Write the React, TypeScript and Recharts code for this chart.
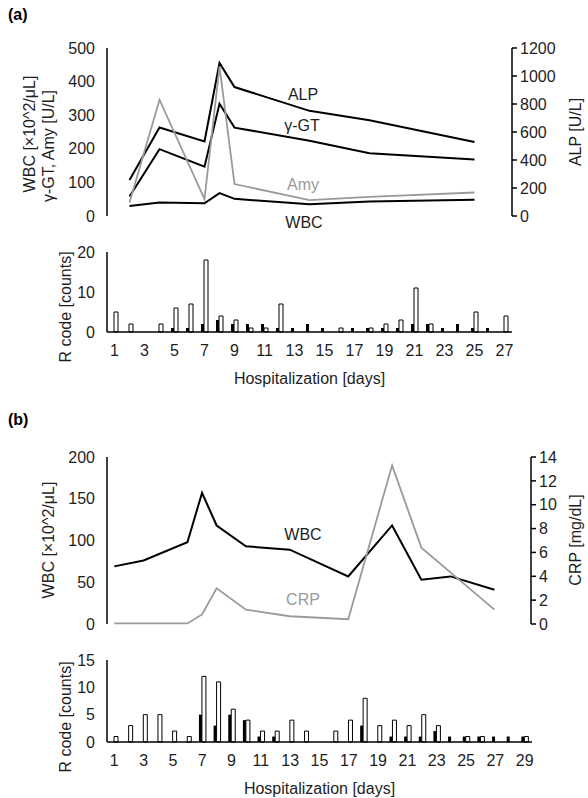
import { LineChart, Line, BarChart, Bar, XAxis, YAxis } from "recharts";

const FONT = '"Liberation Sans", Arial, sans-serif';
const INK = "#1e1e1e";
const GRAY = "#9a9a9a";

// (a) lab values by hospital day
const labDaysA = [2, 4, 7, 8, 9, 14, 18, 25];
const alpA = [258, 632, 532, 1093, 921, 751, 684, 528];
const ggtA = [58, 199, 147, 334, 263, 224, 187, 168];
const amyA = [40, 346, 50, 445, 95, 47, 57, 70];
const wbcA = [30, 40, 38, 68, 51, 35, 43, 48];

// (a) R code counts, days 1-27
const daysA = [1, 2, 3, 4, 5, 6, 7, 8, 9, 10, 11, 12, 13, 14, 15, 16, 17, 18, 19, 20, 21, 22, 23, 24, 25, 26, 27];
const rBlackA = [0, 0, 0, 0, 1, 1, 2, 3, 2, 2, 2, 1, 1, 2, 1, 0, 1, 1, 1, 1, 2, 2, 1, 2, 1, 1, 0];
const rWhiteA = [5, 2, 0, 2, 6, 7, 18, 4, 3, 1, 1, 7, 0, 0, 0, 1, 0, 1, 2, 3, 11, 2, 0, 0, 5, 0, 4];

// (b) lab values by hospital day
const labDaysB = [1, 3, 6, 7, 8, 10, 13, 17, 20, 22, 24, 27];
const wbcB = [69, 76, 98, 157, 118, 93, 89, 57, 118, 53, 57, 41];
const crpB = [0.05, 0.05, 0.05, 0.8, 3.0, 1.2, 0.65, 0.4, 13.3, 6.4, null, 1.2];

// (b) R code counts, days 1-29
const daysB = [1, 2, 3, 4, 5, 6, 7, 8, 9, 10, 11, 12, 13, 14, 15, 16, 17, 18, 19, 20, 21, 22, 23, 24, 25, 26, 27, 28, 29];
const rBlackB = [0, 0, 0, 0, 0, 0, 5, 3, 5, 4, 1, 1, 0, 0, 0, 0, 0, 3, 0, 1, 1, 1, 2, 1, 1, 1, 1, 1, 1];
const rWhiteB = [1, 3, 5, 5, 2, 1, 12, 11, 6, 4, 2, 2, 4, 2, 0, 2, 4, 8, 3, 4, 3, 5, 3, 0, 1, 1, 0, 0, 1];

const labTableA = labDaysA.map((d, i) => ({ day: d, alp: alpA[i], ggt: ggtA[i], amy: amyA[i], wbc: wbcA[i] }));
const labTableB = labDaysB.map((d, i) => ({ day: d, wbc: wbcB[i], crp: crpB[i] }));
const barTableA = daysA.map((d, i) => ({ day: d, black: rBlackA[i], white: rWhiteA[i] }));
const barTableB = daysB.map((d, i) => ({ day: d, black: rBlackB[i], white: rWhiteB[i] }));

const tick = { fill: INK, fontSize: 16, fontFamily: FONT };
const axisLine = { stroke: "#000", strokeWidth: 1.5 };

function VTitle({ x, y, text, fill = INK }: { x: number; y: number; text: string; fill?: string }) {
  return (
    <text
      x={x}
      y={y}
      dy="0.35em"
      textAnchor="middle"
      transform={`rotate(-90 ${x} ${y})`}
      fill={fill}
      fontSize={16}
      fontFamily={FONT}
    >
      {text}
    </text>
  );
}

function Tag({ x, y, text, fill = INK }: { x: number; y: number; text: string; fill?: string }) {
  return (
    <text x={x} y={y} textAnchor="middle" fill={fill} fontSize={16} fontFamily={FONT}>
      {text}
    </text>
  );
}

function CountBars({ data, max, ticks, top, width, titleY }: { data: any[]; max: number; ticks: number[]; top: number; width: number; titleY: number }) {
  return (
    <BarChart
      width={588}
      height={147}
      data={data}
      margin={{ top, right: 588 - width, left: 0, bottom: 0 }}
      barGap={0}
      barCategoryGap="25%"
      style={{ overflow: "visible" }}
    >
      <XAxis
        dataKey="day"
        interval={1}
        tickLine={false}
        axisLine={axisLine}
        tick={tick}
        tickMargin={7}
        height={55}
        label={{ value: "Hospitalization [days]", position: "insideBottom", offset: 3, fill: INK, fontSize: 16, fontFamily: FONT }}
      />
      <YAxis
        width={107}
        domain={[0, max]}
        ticks={ticks}
        tickLine={false}
        axisLine={axisLine}
        tick={tick}
        tickMargin={6}
      />
      <Bar dataKey="black" fill="#000" barSize={3} isAnimationActive={false} />
      <Bar dataKey="white" fill="#fff" stroke="#000" strokeWidth={1} barSize={4} isAnimationActive={false} />
      <VTitle x={65} y={titleY} text="R code [counts]" />
    </BarChart>
  );
}

export default function App() {
  return (
    <div style={{ position: "absolute", left: 0, top: 0, width: 588, height: 798, background: "#fff", fontFamily: FONT }}>
      <div style={{ position: "absolute", left: 8, top: 6, fontSize: 16, fontWeight: "bold", color: "#000" }}>(a)</div>
      <div style={{ position: "absolute", left: 8, top: 411, fontSize: 16, fontWeight: "bold", color: "#000" }}>(b)</div>

      <div style={{ position: "absolute", left: 0, top: 0 }}>
        <LineChart width={588} height={240} data={labTableA} margin={{ top: 48, right: 0, left: 0, bottom: 24 }}>
          <XAxis dataKey="day" type="number" domain={[0.5, 27.5]} hide />
          <YAxis
            yAxisId="left"
            width={107}
            domain={[0, 500]}
            ticks={[0, 100, 200, 300, 400, 500]}
            tickLine={false}
            axisLine={axisLine}
            tick={tick}
            tickMargin={6}
          />
          <YAxis
            yAxisId="right"
            orientation="right"
            width={76}
            domain={[0, 1200]}
            ticks={[0, 200, 400, 600, 800, 1000, 1200]}
            tickLine={{ stroke: "#000", strokeWidth: 1.5 }}
            tickSize={5}
            axisLine={axisLine}
            tick={tick}
            tickMargin={3}
          />
          <Line yAxisId="right" dataKey="alp" stroke="#000" strokeWidth={2} dot={false} isAnimationActive={false} />
          <Line yAxisId="left" dataKey="ggt" stroke="#000" strokeWidth={2} dot={false} isAnimationActive={false} />
          <Line yAxisId="left" dataKey="amy" stroke={GRAY} strokeWidth={1.8} dot={false} isAnimationActive={false} />
          <Line yAxisId="left" dataKey="wbc" stroke="#000" strokeWidth={2} dot={false} isAnimationActive={false} />
          <Tag x={303} y={100} text="ALP" />
          <Tag x={302} y={131} text="γ-GT" />
          <Tag x={303} y={190} text="Amy" fill={GRAY} />
          <Tag x={304} y={228} text="WBC" />
          <VTitle x={29} y={134} text="WBC [×10^2/μL]" />
          <VTitle x={48} y={146} text="γ-GT, Amy [U/L]" />
          <VTitle x={575} y={132} text="ALP [U/L]" />
        </LineChart>
      </div>

      <div style={{ position: "absolute", left: 0, top: 240 }}>
        <CountBars data={barTableA} max={20} ticks={[0, 5, 10, 15, 20]} top={12} width={512} titleY={67} />
      </div>

      <div style={{ position: "absolute", left: 0, top: 400 }}>
        <LineChart width={588} height={250} data={labTableB} margin={{ top: 57, right: 0, left: 0, bottom: 26 }}>
          <XAxis dataKey="day" type="number" domain={[0.5, 29.5]} hide />
          <YAxis
            yAxisId="left"
            width={107}
            domain={[0, 200]}
            ticks={[0, 50, 100, 150, 200]}
            tickLine={false}
            axisLine={axisLine}
            tick={tick}
            tickMargin={6}
          />
          <YAxis
            yAxisId="right"
            orientation="right"
            width={57}
            domain={[0, 14]}
            ticks={[0, 2, 4, 6, 8, 10, 12, 14]}
            tickLine={{ stroke: "#000", strokeWidth: 1.5 }}
            tickSize={5}
            axisLine={axisLine}
            tick={tick}
            tickMargin={3}
          />
          <Line yAxisId="left" dataKey="wbc" stroke="#000" strokeWidth={2} dot={false} isAnimationActive={false} />
          <Line yAxisId="right" dataKey="crp" stroke={GRAY} strokeWidth={1.8} dot={false} connectNulls isAnimationActive={false} />
          <Tag x={303} y={140} text="WBC" />
          <Tag x={303} y={205} text="CRP" fill={GRAY} />
          <VTitle x={48} y={140} text="WBC [×10^2/μL]" />
          <VTitle x={575} y={140} text="CRP [mg/dL]" />
        </LineChart>
      </div>

      <div style={{ position: "absolute", left: 0, top: 650 }}>
        <CountBars data={barTableB} max={15} ticks={[0, 5, 10, 15]} top={10} width={532} titleY={67} />
      </div>
    </div>
  );
}
